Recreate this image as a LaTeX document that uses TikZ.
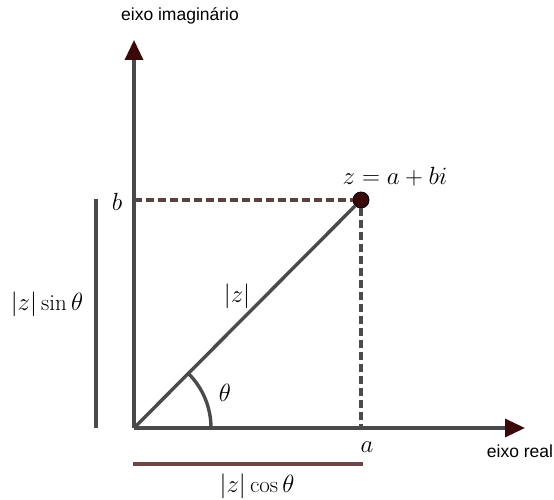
\documentclass[tikz,border=0pt]{standalone}
\usepackage{fontspec}
\setsansfont{Liberation Sans}
\usetikzlibrary{arrows.meta}
\definecolor{axisc}{HTML}{4A4A4A}
\definecolor{tipc}{HTML}{3A0A0A}
\definecolor{dashc}{HTML}{5E3F3F}
\definecolor{barc}{HTML}{704545}
\begin{document}
\begin{tikzpicture}[x=1pt,y=-1pt,
  axis/.style={line width=3.4pt,color=axisc,-{Triangle[length=20pt,width=18pt,color=tipc]}},
  guide/.style={line width=3.4pt,dash pattern=on 8pt off 4pt},
  bar/.style={line width=3.4pt},
  mlab/.style={font=\fontsize{23}{27}\selectfont},
  slab/.style={font=\sffamily\fontsize{17.5}{20}\selectfont}]
\useasboundingbox (0,0) rectangle (554,500);
\coordinate (O) at (134,428);
\coordinate (Y) at (134,40);
\coordinate (X) at (525,428);
\coordinate (B) at (134,200);
\coordinate (A) at (361,428);
\node[circle,fill=tipc,draw=black,line width=0.8pt,minimum size=16pt,inner sep=0pt] (Z) at (361,200) {};
\draw[guide,color=dashc] (B) -- (Z);
\draw[guide,color=axisc] (Z) -- (A);
\draw[line width=3.4pt,color=axisc] (O) -- (Z);
\draw[line width=3.4pt,color=axisc] (211,428) arc[start angle=0,end angle=-45,radius=77];
\draw[axis] (O) -- (Y);
\draw[axis] (O) -- (X);
\coordinate (L1) at (96,199);
\coordinate (L2) at (96,428);
\draw[bar,color=axisc] (L1) -- (L2);
\coordinate (H1) at (133,464);
\coordinate (H2) at (363,464);
\draw[bar,color=barc] (H1) -- (H2);
\node[slab] (ti) at (180,16) {eixo imagin\'ario};
\node[slab] (tr) at (520,451) {eixo real};
\node[mlab] (tb) at (117,202) {$b$};
\node[mlab] (ta) at (367,447) {$a$};
\node[mlab] (tz) at (395,177) {$z=a+bi$};
\node[mlab] (tm) at (237,296) {$|z|$};
\node[mlab] (tt) at (225,393) {$\theta$};
\node[mlab] (ts) at (47,304) {$|z|\sin\theta$};
\node[mlab] (tc) at (257,486) {$|z|\cos\theta$};
\end{tikzpicture}
\end{document}
